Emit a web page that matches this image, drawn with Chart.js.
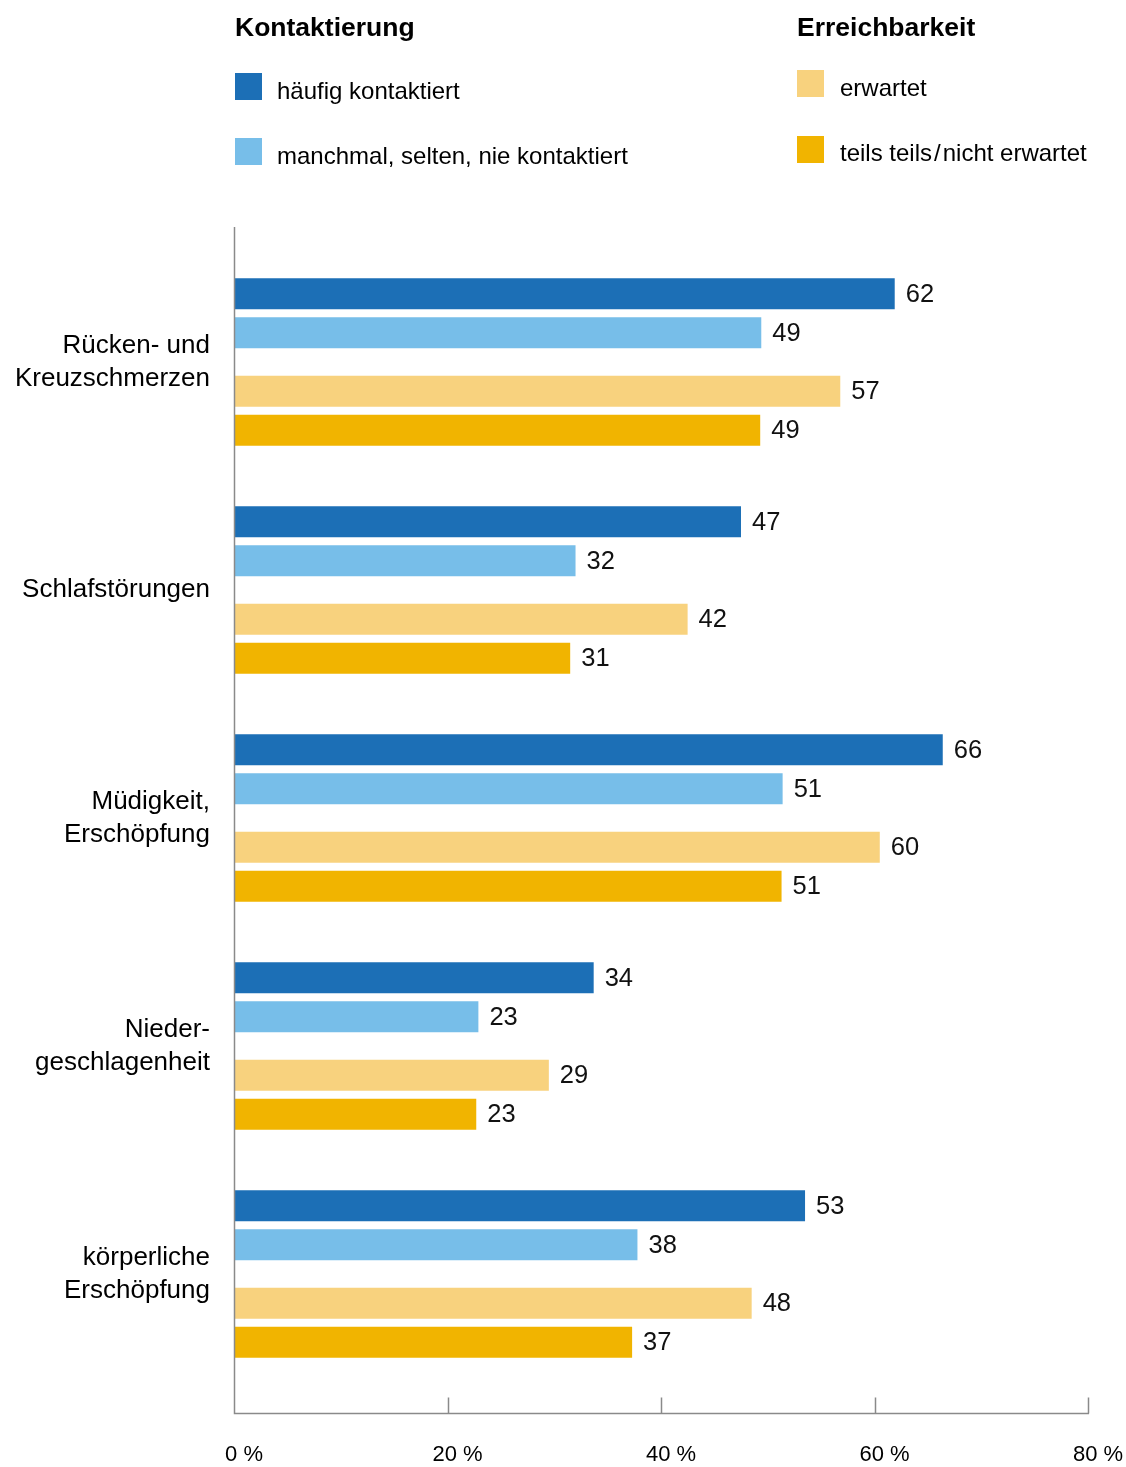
<!DOCTYPE html>
<html lang="de">
<head>
<meta charset="utf-8">
<title>Kontaktierung und Erreichbarkeit</title>
<script src="https://cdn.jsdelivr.net/npm/chart.js@4/dist/chart.umd.min.js"></script>
<style>
  body { margin: 0; background: #fff; font-family: 'Liberation Sans', Arial, sans-serif; color: #000; }
  #wrap { position: relative; width: 1126px; height: 1467px; }
  #statsChart { position: absolute; left: 0; top: 0; }
  .lg-title { position: absolute; font-weight: bold; font-size: 26.5px; line-height: 30px; white-space: nowrap; }
  .lg-text { position: absolute; font-size: 24px; line-height: 30px; white-space: nowrap; }
  .lg-box { position: absolute; width: 27px; height: 27px; }
</style>
</head>
<body>
<div id="wrap">
  <canvas id="statsChart" width="1126" height="1467"></canvas>
  <div id="legend"></div>
</div>
<script>
// categories (multi-line labels as arrays)
const categories = [
    ["Rücken- und", "Kreuzschmerzen"],
    "Schlafstörungen",
    ["Müdigkeit,", "Erschöpfung"],
    ["Nieder-", "geschlagenheit"],
    ["körperliche", "Erschöpfung"],
];

// values in % (labels are the rounded values)
const haeufigKontaktiert = [61.8, 47.4, 66.3, 33.6, 53.4];
const seltenKontaktiert = [49.3, 31.9, 51.3, 22.8, 37.7];
const erwartet = [56.7, 42.4, 60.4, 29.4, 48.4];
const nichtErwartet = [49.2, 31.4, 51.2, 22.6, 37.2];

const seriesNames = [
    "häufig kontaktiert",
    "manchmal, selten, nie kontaktiert",
    "erwartet",
    "teils teils\u200A/\u200Anicht erwartet",
];
const seriesValues = [haeufigKontaktiert, seltenKontaktiert, erwartet, nichtErwartet];
const seriesColors = ["#1c6fb6", "#77bee9", "#f8d27e", "#f1b400"];

const xTicks = [0, 20, 40, 60, 80];

// slot layout inside one group: bar, gap, bar, gap, gap, bar, gap, bar
const slots = [0, null, 1, null, null, 2, null, 3];

const FONT = "'Liberation Sans', Arial, sans-serif";
Chart.defaults.font.family = FONT;
Chart.defaults.color = "#000";

// html legend
const legendLayout = [
    { title: "Kontaktierung", x: 235, tx: 277, titleY: 27, boxY: [73, 138], textY: [91, 156], series: [0, 1] },
    { title: "Erreichbarkeit", x: 797, tx: 840, titleY: 27, boxY: [70, 136], textY: [88, 153], series: [2, 3] },
];
const legendEl = document.getElementById("legend");
legendLayout.forEach(group => {
    const t = document.createElement("div");
    t.className = "lg-title";
    t.textContent = group.title;
    t.style.left = group.x + "px";
    t.style.top = (group.titleY - 15) + "px";
    legendEl.appendChild(t);
    group.series.forEach((s, i) => {
        const box = document.createElement("div");
        box.className = "lg-box";
        box.style.left = group.x + "px";
        box.style.top = group.boxY[i] + "px";
        box.style.background = seriesColors[s];
        legendEl.appendChild(box);
        const txt = document.createElement("div");
        txt.className = "lg-text";
        txt.textContent = seriesNames[s];
        txt.style.left = group.tx + "px";
        txt.style.top = (group.textY[i] - 15) + "px";
        legendEl.appendChild(txt);
    });
});

// axis lines + inward tick marks, drawn a bit outside the chart area like the original
const axisLines = {
    id: "axisLines",
    afterDatasetsDraw(chart) {
        const { ctx, chartArea, scales } = chart;
        const x = scales.x;
        const x0 = Math.round(x.getPixelForValue(0)) - 0.5;
        const base = chartArea.bottom + 25.5;
        ctx.save();
        ctx.strokeStyle = "#8a8a8a";
        ctx.lineWidth = 1.5;
        ctx.beginPath();
        ctx.moveTo(x0, chartArea.top - 21);
        ctx.lineTo(x0, base);
        ctx.lineTo(x.getPixelForValue(80), base);
        x.ticks.forEach(t => {
            if (t.value === 0) return;
            const px = Math.round(x.getPixelForValue(t.value)) - 0.5;
            ctx.moveTo(px, base);
            ctx.lineTo(px, base - 16);
        });
        ctx.stroke();
        ctx.restore();
    },
};

// value labels right of each bar
const valueLabels = {
    id: "valueLabels",
    afterDatasetsDraw(chart) {
        const ctx = chart.ctx;
        ctx.save();
        ctx.font = "25.5px " + FONT;
        ctx.fillStyle = "#111";
        ctx.textAlign = "left";
        ctx.textBaseline = "middle";
        chart.data.datasets.forEach((ds, i) => {
            if (ds.spacer) return;
            chart.getDatasetMeta(i).data.forEach((bar, j) => {
                ctx.fillText(String(Math.round(ds.data[j])), bar.x + 11, bar.y + 1);
            });
        });
        ctx.restore();
    },
};

const datasets = slots.map(s => s === null
    ? { data: [], spacer: true }
    : {
        label: seriesNames[s],
        data: seriesValues[s],
        backgroundColor: seriesColors[s],
        borderWidth: 0,
    });

const canvas = document.getElementById("statsChart");
const ctx = canvas.getContext("2d");

window.myChart = new Chart(ctx, {
    type: "bar",
    data: { labels: categories, datasets: datasets },
    options: {
        indexAxis: "y",
        responsive: false,
        animation: false,
        datasets: {
            bar: {
                categoryPercentage: 0.684,
                barPercentage: 1.59,
            },
        },
        layout: { padding: { top: 248, right: 37, bottom: 0, left: 0 } },
        plugins: {
            legend: { display: false },
            tooltip: { enabled: false },
        },
        scales: {
            x: {
                min: 0,
                max: 80,
                afterBuildTicks: s => { s.ticks = xTicks.map(v => ({ value: v })); },
                afterFit: s => {
                    s.height = 79;
                    s.paddingLeft = 0;
                    s.paddingRight = 0;
                },
                grid: { display: false, drawTicks: false },
                border: { display: false },
                ticks: {
                    font: { size: 22 },
                    padding: 54,
                    labelOffset: 9,
                    maxRotation: 0,
                    autoSkip: false,
                    callback: v => v + " %",
                },
            },
            y: {
                afterFit: s => {
                    s.width = 235;
                    s.paddingTop = 0;
                    s.paddingBottom = 0;
                },
                grid: { display: false, drawTicks: false },
                border: { display: false },
                ticks: {
                    font: { size: 26, lineHeight: 1.27 },
                    padding: 25,
                    autoSkip: false,
                },
            },
        },
    },
    plugins: [axisLines, valueLabels],
});
</script>
</body>
</html>
